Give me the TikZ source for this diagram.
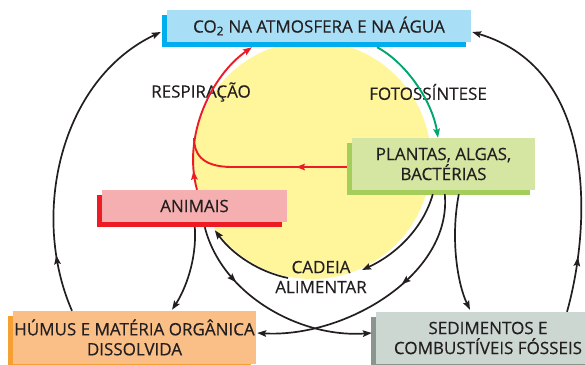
\documentclass[tikz,border=0pt]{standalone}
\usepackage{fontspec}
\setmainfont{Open Sans}[FakeBold=0.35]
\usetikzlibrary{arrows.meta,shadows,decorations.markings}
\definecolor{txt}{HTML}{231F20}
\definecolor{yel}{HTML}{FFF59B}
\definecolor{redc}{HTML}{ED1C24}
\definecolor{grnc}{HTML}{00A66B}
\definecolor{bluef}{HTML}{A9DFF6}
\definecolor{blues}{HTML}{00AEEF}
\definecolor{greenf}{HTML}{D5E6A3}
\definecolor{greens}{HTML}{A5CD5B}
\definecolor{pinkf}{HTML}{F6AFB0}
\definecolor{orangef}{HTML}{F9BF87}
\definecolor{oranges}{HTML}{F6A033}
\definecolor{grayf}{HTML}{CDD7D2}
\definecolor{grays}{HTML}{8A9590}
\begin{document}
\begin{tikzpicture}[x=1pt,y=1pt,
  font=\fontsize{17}{20}\selectfont, text=txt,
  box/.style 2 args={rectangle, inner sep=0pt, align=center, fill=#1,
    general shadow={fill=#2, shadow xshift=-5pt, shadow yshift=-5pt}},
  tip/.style={-{Stealth[length=9pt,width=6.5pt,inset=1.5pt]}},
  mid/.style={postaction={decorate},decoration={markings,
    mark=at position #1 with {\arrow{Stealth[length=9pt,width=6.5pt,inset=1.5pt]}}}},
  blk/.style={draw=txt, line width=1.7pt},
  redl/.style={draw=redc, line width=1.9pt},
  grnl/.style={draw=grnc, line width=1.9pt},
  lbl/.style={align=center, inner sep=0pt}]
\clip (0,0) rectangle (585,-364);
\fill[yel] (312,-160) circle (119);
% boxes
\node[box={bluef}{blues}, minimum width=304pt, minimum height=32pt] (co2) at (319,-26) {CO\textsubscript{2} NA ATMOSFERA E NA ÁGUA};
\node[box={greenf}{greens}, minimum width=183pt, minimum height=52pt] (plantas) at (443.5,-164) {PLANTAS, ALGAS,\\BACTÉRIAS};
\node[box={pinkf}{redc}, minimum width=185pt, minimum height=32pt] (animais) at (194.5,-206) {ANIMAIS};
\node[box={orangef}{oranges}, minimum width=243pt, minimum height=53pt] (humus) at (134.5,-337.5) {HÚMUS E MATÉRIA ORGÂNICA\\DISSOLVIDA};
\node[box={grayf}{grays}, minimum width=224pt, minimum height=52pt] (sed) at (488,-338) {SEDIMENTOS E\\COMBUSTÍVEIS FÓSSEIS};
% labels
\node[lbl] (resp) at (201,-92) {RESPIRAÇÃO};
\node[lbl] (foto) at (428,-92) {FOTOSSÍNTESE};
\node[lbl] (cadeia) at (321,-277) {CADEIA\\ALIMENTAR};
% red
\coordinate (join) at (194,-138);
\draw[redl, tip, mid=0.12] ([xshift=2.5pt]animais.north) .. controls (182,-135) and (212,-75) .. ([xshift=-67pt,yshift=-5pt]co2.south);
\draw[redl, mid=0.3] ([xshift=-5pt,yshift=-3pt]plantas.west) -- (232,-167) .. controls (200,-167) and (194,-152) .. (join);
% green
\draw[grnl, tip] ([xshift=58pt,yshift=-5pt]co2.south) .. controls (405,-62) and (432,-100) .. ([xshift=-5.5pt]plantas.north);
% black
\draw[blk, tip, mid=0.18] ([xshift=-62.5pt]humus.north) .. controls (30,-215) and (60,-80) .. ([xshift=-6pt,yshift=-6pt]co2.west);
\draw[blk, tip, mid=0.17] ([xshift=79pt]sed.north) .. controls (590,-230) and (600,-70) .. ([xshift=1pt,yshift=-6pt]co2.east);
\draw[blk, tip] ([xshift=107pt,yshift=-4pt]plantas.south west) .. controls (450,-240) and (458,-285) .. ([xshift=-18pt,yshift=2pt]sed.north);
\draw[blk, tip] ([xshift=81pt,yshift=-4pt]plantas.south west) .. controls (423,-229) and (395,-255) .. ([shift={(41,7)}]cadeia.center);
\draw[blk, tip] ([shift={(-33,-1)}]cadeia.center) .. controls (258.6,-272) and (232.6,-254.3) .. ([xshift=113pt,yshift=-8pt]animais.south west);
\draw[blk, tip] ([xshift=93pt,yshift=-5pt]animais.south west) .. controls (197,-260) and (185,-290) .. ([xshift=37.5pt,yshift=1pt]humus.north);
\draw[blk, tip, mid=0.3] ([xshift=103pt,yshift=-5pt]animais.south west) .. controls (222,-295) and (300,-338) .. ([xshift=-4pt,yshift=5pt]sed.west);
\draw[blk, tip, mid=0.4] ([xshift=93pt,yshift=-4pt]plantas.south west) .. controls (452,-275) and (345,-338) .. ([xshift=1pt,yshift=4.5pt]humus.east);
\end{tikzpicture}
\end{document}
